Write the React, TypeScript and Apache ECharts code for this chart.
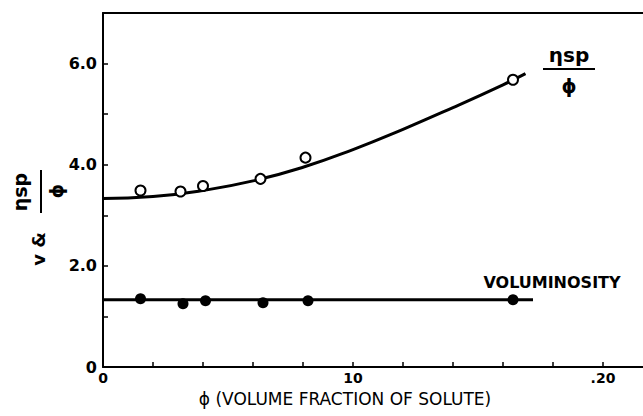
import React, { useEffect, useRef } from "react";
import * as echarts from "echarts";

// phi (volume fraction of solute, as drawn on the axis) and values
const curvePhi = [0, 2, 4, 6, 8, 10, 12, 14, 16, 16.9];
const curveEta = [3.33, 3.37, 3.49, 3.68, 3.95, 4.3, 4.7, 5.13, 5.58, 5.8];

const etaPhi = [1.5, 3.1, 4.0, 6.3, 8.1, 16.4];
const etaVal = [3.49, 3.47, 3.58, 3.72, 4.14, 5.68];

const volPhi = [1.5, 3.2, 4.1, 6.4, 8.2, 16.4];
const volVal = [1.35, 1.25, 1.31, 1.27, 1.31, 1.33];

const volLinePhi = [0, 17.2];
const volLineVal = [1.33, 1.33];

const xTickLabels: Record<number, string> = { 0: "0", 10: "10", 20: ".20" };
const yTickLabels: Record<number, string> = { 0: "0", 2: "2.0", 4: "4.0", 6: "6.0" };

const FONT = "'DejaVu Sans', sans-serif";

export default function App() {
  const ref = useRef<HTMLDivElement>(null);
  useEffect(() => {
    if (!ref.current) return;
    const chart = echarts.init(ref.current, null, { renderer: "svg" });
    const zip = (a: number[], b: number[]) => a.map((v, i) => [v, b[i]]);
    chart.setOption({
      animation: false,
      backgroundColor: "#ffffff",
      grid: { left: 103, top: 13, right: 0, bottom: 49 },
      xAxis: [
        {
          type: "value",
          min: 0,
          max: 21.6,
          interval: 2,
          axisLine: { show: true, onZero: false, lineStyle: { color: "#000", width: 2 } },
          axisTick: { show: true, inside: true, length: 5, lineStyle: { color: "#000", width: 1.5 } },
          splitLine: { show: false },
          axisLabel: {
            color: "#000",
            fontFamily: FONT,
            fontSize: 14,
            fontWeight: "bold",
            margin: 4,
            showMaxLabel: false,
            formatter: (v: number) => xTickLabels[Math.round(v * 100) / 100] ?? "",
          },
        },
        {
          type: "value",
          position: "top",
          min: 0,
          max: 21.6,
          axisLine: { show: true, onZero: false, lineStyle: { color: "#000", width: 2 } },
          axisTick: { show: false },
          axisLabel: { show: false },
          splitLine: { show: false },
        },
      ],
      yAxis: {
        type: "value",
        min: 0,
        max: 7,
        interval: 1,
        axisLine: { show: true, onZero: false, lineStyle: { color: "#000", width: 2 } },
        axisTick: { show: true, inside: true, length: 5, lineStyle: { color: "#000", width: 1.5 } },
        splitLine: { show: false },
        axisLabel: {
          color: "#000",
          fontFamily: FONT,
          fontSize: 16,
          fontWeight: "bold",
          margin: 6,
          formatter: (v: number) => yTickLabels[Math.round(v)] ?? "",
        },
      },
      series: [
        {
          type: "line",
          smooth: 0.5,
          showSymbol: false,
          symbol: "none",
          data: zip(curvePhi, curveEta),
          lineStyle: { color: "#000", width: 3 },
          z: 2,
        },
        {
          type: "line",
          showSymbol: false,
          symbol: "none",
          data: zip(volLinePhi, volLineVal),
          lineStyle: { color: "#000", width: 3 },
          z: 2,
        },
        {
          type: "scatter",
          symbol: "circle",
          symbolSize: 10,
          data: zip(etaPhi, etaVal),
          itemStyle: { color: "#fff", borderColor: "#000", borderWidth: 2, opacity: 1 },
          z: 3,
        },
        {
          type: "scatter",
          symbol: "circle",
          symbolSize: 11,
          data: zip(volPhi, volVal),
          itemStyle: { color: "#000", opacity: 1 },
          z: 3,
        },
      ],
      graphic: [
        // y axis title: "v & ηsp/ϕ" rotated
        {
          type: "text",
          x: 38,
          y: 249,
          rotation: Math.PI / 2,
          style: { text: "v &", font: `bold 18px ${FONT}`, fill: "#000", align: "center", verticalAlign: "middle" },
        },
        {
          type: "text",
          x: 20,
          y: 192,
          rotation: Math.PI / 2,
          style: { text: "ηsp", font: `bold 19px ${FONT}`, fill: "#000", align: "center", verticalAlign: "middle" },
        },
        {
          type: "line",
          shape: { x1: 41, y1: 170, x2: 41, y2: 213 },
          style: { stroke: "#000", lineWidth: 2 },
        },
        {
          type: "text",
          x: 56,
          y: 191,
          rotation: Math.PI / 2,
          style: { text: "ϕ", font: `bold 18px ${FONT}`, fill: "#000", align: "center", verticalAlign: "middle" },
        },
        // series label upper right
        {
          type: "text",
          x: 569,
          y: 55,
          style: { text: "ηsp", font: `bold 20px ${FONT}`, fill: "#000", align: "center", verticalAlign: "middle" },
        },
        {
          type: "line",
          shape: { x1: 543, y1: 69, x2: 595, y2: 69 },
          style: { stroke: "#000", lineWidth: 2 },
        },
        {
          type: "text",
          x: 569,
          y: 86,
          style: { text: "ϕ", font: `bold 19px ${FONT}`, fill: "#000", align: "center", verticalAlign: "middle" },
        },
        {
          type: "text",
          x: 552,
          y: 282,
          style: { text: "VOLUMINOSITY", font: `bold 16px ${FONT}`, fill: "#000", align: "center", verticalAlign: "middle" },
        },
        // x axis title
        {
          type: "text",
          x: 345,
          y: 399,
          style: {
            text: "ϕ (VOLUME FRACTION OF SOLUTE)",
            font: `17px ${FONT}`,
            fill: "#000",
            align: "center",
            verticalAlign: "middle",
          },
        },
      ],
    });
    return () => chart.dispose();
  }, []);
  return (
    <div
      ref={ref}
      style={{ position: "fixed", left: 0, top: 0, width: 643, height: 416, background: "#fff" }}
    />
  );
}
